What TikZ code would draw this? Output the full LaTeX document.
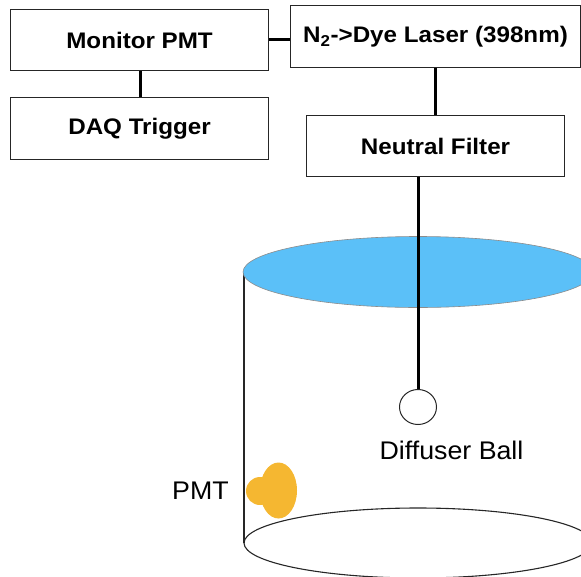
\documentclass[tikz,border=0pt]{standalone}
\usepackage{fontspec}
\usetikzlibrary{shapes.geometric}
\setmainfont{Liberation Sans}
\newfontfamily\boxfont{Liberation Sans}[FakeStretch=1.075]
\newfontfamily\labelfont{Liberation Sans}[FakeStretch=1.05]
\begin{document}
\begin{tikzpicture}[x=1pt,y=-1pt,
  blockbox/.style={draw=black!85,line width=1.1pt,inner sep=0pt,anchor=north west,
    font=\boxfont\fontsize{22.5}{26}\selectfont\bfseries},
  link/.style={line width=3pt,black},
  thin/.style={line width=1.1pt,black!85},
  label/.style={font=\labelfont\fontsize{25.5}{28}\selectfont}]
\useasboundingbox (0,0) rectangle (581,576);
\clip (0,0) rectangle (581,576);
\definecolor{water}{HTML}{5BC0F8}
\definecolor{pmtgold}{HTML}{F5B731}

% control chain
\node[blockbox,minimum width=258pt,minimum height=61pt] (mon) at (10,9) {Monitor PMT};
\node[blockbox,minimum width=258pt,minimum height=62pt] (daq) at (10,97) {DAQ Trigger};
\node[blockbox,minimum width=290pt,minimum height=62pt] (laser) at (290,5) {N\textsubscript{2}->Dye Laser (398nm)};
\node[blockbox,minimum width=258pt,minimum height=61pt] (filt) at (306,115) {Neutral Filter};

\draw[link] (mon.east |- 0,39) -- (laser.west |- 0,39);
\draw[link] (mon.south -| 140,0) -- (daq.north -| 140,0);
\draw[link] (laser.south -| 435,0) -- (filt.north -| 435,0);

% tank
\coordinate (topc) at (418,272);
\coordinate (botc) at (418,543);
\draw[thin] (244,272) -- (244,543);
\draw[thin] (botc) ellipse [x radius=174pt,y radius=35pt];
\fill[water,draw=black!45,line width=0.6pt] (topc) ellipse [x radius=175pt,y radius=35.5pt];

% diffuser ball on its fibre
\node[draw=black!85,line width=1pt,ellipse,minimum width=37pt,minimum height=35pt,inner sep=0pt] (ball) at (418,407) {};
\draw[link] (filt.south -| 418,0) -- (ball.north);
\node[label] (balllab) at (451.5,450) {Diffuser Ball};

% photomultiplier
\fill[pmtgold] (278.5,490.5) ellipse [x radius=18.5pt,y radius=28pt];
\fill[pmtgold] (260,491) circle [radius=14pt];
\node[label] (pmtlab) at (200.5,491) {PMT};
\end{tikzpicture}
\end{document}
